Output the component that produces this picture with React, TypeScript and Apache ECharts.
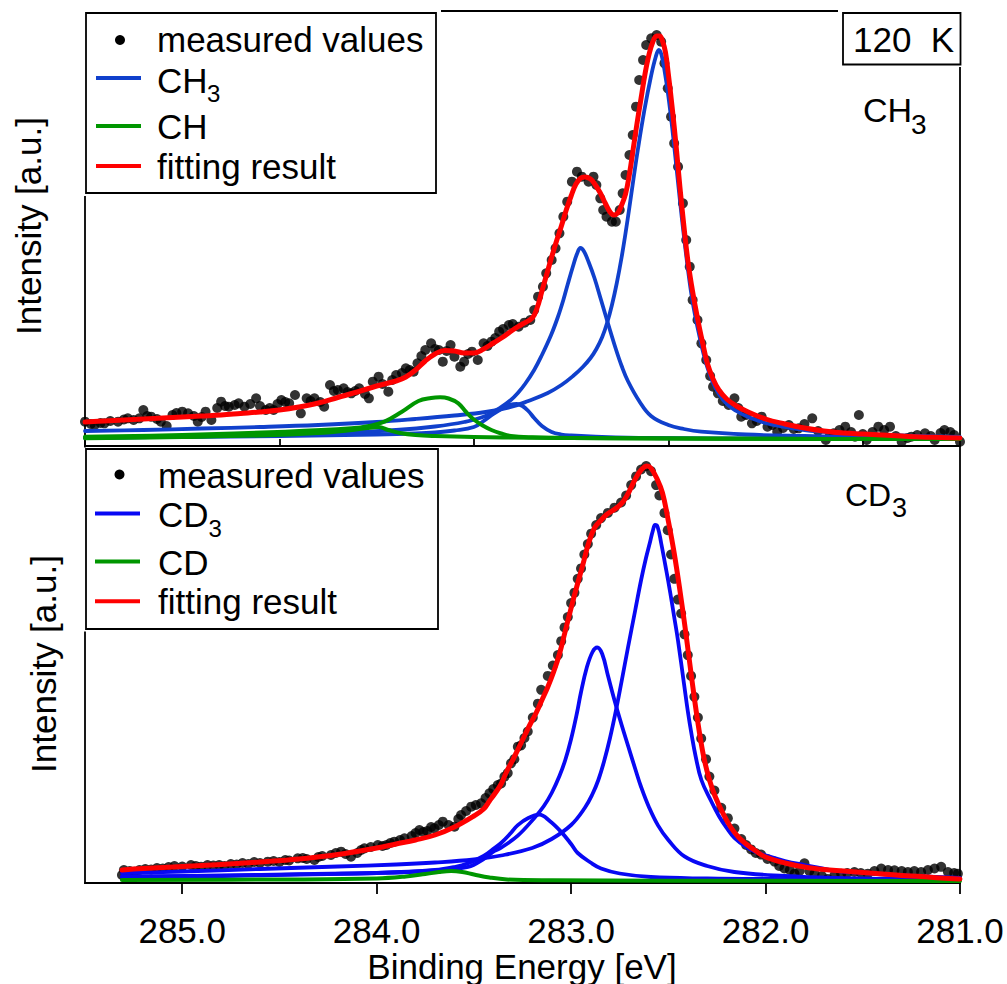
import React, { useEffect, useRef } from "react";
import * as echarts from "echarts";

const FONT = "'Liberation Sans', Arial, Helvetica, sans-serif";

const xMajorTicks = [285, 284, 283, 282, 281];
const xMinorTicks = [285.5, 284.5, 283.5, 282.5, 281.5];
const xMin = 281;
const xMax = 285.5;

const topMeasured: [number, number][] = [
  [285.5, 24.3], [285.47, 22], [285.45, 21], [285.42, 23], [285.4, 22.7], [285.37, 25], [285.33, 24.3], [285.3, 26.5],
  [285.28, 27.7], [285.25, 26], [285.22, 27.7], [285.2, 36], [285.18, 30], [285.16, 29.3], [285.13, 27], [285.11, 24.3],
  [285.08, 20], [285.05, 31], [285.03, 33], [285.0, 34.3], [284.97, 32.7], [284.94, 30], [284.92, 24.3], [284.9, 29],
  [284.88, 34.3], [284.85, 26], [284.82, 38], [284.8, 44.3], [284.78, 40], [284.76, 39.3], [284.73, 41], [284.71, 42.7],
  [284.68, 39.3], [284.65, 42], [284.62, 47.7], [284.6, 40], [284.57, 36], [284.55, 38], [284.53, 36], [284.51, 42],
  [284.49, 46], [284.47, 44], [284.45, 42.7], [284.42, 51], [284.39, 32.7], [284.36, 47.7], [284.34, 45], [284.32, 47.7],
  [284.29, 44], [284.27, 39.3], [284.24, 61], [284.22, 55], [284.2, 56], [284.17, 57.7], [284.15, 54], [284.13, 52.7],
  [284.11, 55], [284.09, 57.7], [284.06, 52], [284.04, 47.7], [284.02, 64.3], [283.99, 69.3], [283.97, 62], [283.94, 54.3],
  [283.92, 66], [283.9, 71], [283.87, 73], [283.85, 77.7], [283.83, 76], [283.81, 74.3], [283.79, 82.7], [283.77, 90],
  [283.75, 96], [283.72, 102.7], [283.7, 97], [283.68, 96], [283.66, 84.3], [283.64, 95], [283.62, 101], [283.6, 89.3],
  [283.57, 79.3], [283.55, 84.3], [283.53, 92], [283.51, 94.3], [283.48, 86], [283.45, 102.7], [283.43, 100], [283.41, 104.3],
  [283.39, 108], [283.37, 114.3], [283.35, 117], [283.32, 121], [283.3, 122], [283.27, 119.3], [283.24, 123.3], [283.21, 126],
  [283.19, 136], [283.17, 149.3], [283.145, 159.3], [283.128, 172.7], [283.1, 186], [283.08, 197.7], [283.06, 212.7], [283.04, 229.3],
  [283.02, 244.3], [282.996, 264.3], [282.97, 274.3], [282.945, 269.3], [282.91, 264.3], [282.885, 269.3], [282.87, 261], [282.85, 247.7],
  [282.835, 236], [282.818, 229.3], [282.79, 224.3], [282.77, 224.3], [282.75, 236], [282.735, 252.7], [282.72, 271], [282.7, 291],
  [282.683, 311], [282.666, 339.3], [282.65, 366], [282.63, 386], [282.614, 401], [282.588, 407.7], [282.56, 411], [282.537, 404.3],
  [282.52, 382.7], [282.503, 357.7], [282.486, 329.3], [282.47, 302.7], [282.45, 279.3], [282.425, 242.7], [282.408, 206], [282.39, 179.3],
  [282.375, 146], [282.35, 126], [282.33, 102.7], [282.305, 86], [282.285, 70], [282.27, 59.3], [282.245, 52.7], [282.22, 45],
  [282.19, 41], [282.16, 47.7], [282.14, 38], [282.125, 29.3], [282.1, 31], [282.07, 22.7], [282.045, 25], [282.02, 29.3],
  [281.99, 19.3], [281.965, 21], [281.94, 14.3], [281.91, 18], [281.88, 21], [281.855, 17], [281.83, 17.7], [281.8, 22],
  [281.76, 27.7], [281.73, 15], [281.69, 6], [281.67, 10], [281.65, 12.7], [281.62, 16], [281.59, 19.3], [281.56, 14],
  [281.54, 9.3], [281.52, 31], [281.5, 12], [281.48, 6], [281.45, 14], [281.42, 19.3], [281.39, 16], [281.36, 19.3],
  [281.33, 10], [281.3, 4.3], [281.27, 8], [281.25, 9.3], [281.22, 11], [281.18, 12.7], [281.15, 10], [281.13, 6],
  [281.1, 13], [281.08, 16], [281.05, 14], [281.03, 11], [281.0, 4.3],
];

const topFit: [number, number][] = [
  [285.5, 24], [285.4, 25], [285.3, 26], [285.2, 27], [285.1, 28], [285.0, 29], [284.9, 30], [284.8, 31], [284.7, 32.5],
  [284.6, 34], [284.5, 36], [284.4, 39], [284.3, 43], [284.2, 48.5], [284.1, 54], [284.0, 60], [283.9, 65], [283.85, 69],
  [283.8, 76], [283.75, 85], [283.7, 92], [283.65, 95.5], [283.6, 95], [283.55, 93], [283.5, 93], [283.45, 97], [283.4, 103],
  [283.35, 109], [283.3, 116], [283.25, 122], [283.2, 128], [283.175, 138], [283.15, 155], [283.125, 172], [283.1, 189],
  [283.075, 205], [283.05, 220], [283.025, 236], [283.0, 250], [282.975, 262], [282.95, 268], [282.93, 269], [282.9, 267],
  [282.875, 261], [282.85, 253], [282.825, 243], [282.8, 234], [282.78, 231], [282.76, 233], [282.74, 241], [282.72, 252],
  [282.7, 272], [282.68, 298], [282.66, 324], [282.64, 348], [282.62, 372], [282.6, 391], [282.58, 404], [282.56, 410],
  [282.545, 410], [282.53, 405], [282.515, 394], [282.5, 372], [282.48, 338], [282.46, 300], [282.44, 258], [282.42, 220],
  [282.4, 186], [282.38, 160], [282.36, 138], [282.34, 118], [282.32, 100], [282.3, 83], [282.27, 67], [282.24, 56],
  [282.2, 47], [282.15, 40], [282.1, 35], [282.0, 27], [281.9, 22], [281.8, 18], [281.7, 15], [281.6, 13], [281.5, 12],
  [281.4, 11], [281.3, 10], [281.2, 9], [281.1, 8.5], [281.0, 8],
];

const topCH3Main: [number, number][] = [
  [285.5, 15], [285.2, 16], [284.9, 17.5], [284.6, 19], [284.3, 21], [284.0, 24], [283.8, 27], [283.6, 30.5], [283.44, 34],
  [283.31, 39], [283.22, 45], [283.12, 53], [283.05, 61], [282.99, 70], [282.94, 79], [282.9, 88], [282.87, 97],
  [282.84, 109], [282.815, 123], [282.79, 141], [282.765, 163], [282.74, 189], [282.72, 213], [282.7, 239], [282.68, 266],
  [282.657, 296], [282.623, 336], [282.59, 369], [282.565, 389], [282.549, 396], [282.535, 391], [282.52, 376], [282.5, 350],
  [282.48, 318], [282.46, 282], [282.44, 245], [282.42, 210], [282.4, 178], [282.38, 150], [282.36, 128], [282.34, 110],
  [282.32, 93], [282.3, 79], [282.27, 63], [282.24, 52], [282.2, 42], [282.15, 35], [282.1, 30], [282.0, 23], [281.9, 19],
  [281.8, 16], [281.65, 13.5], [281.5, 12], [281.3, 10.5], [281.0, 9],
];

const topCH3Second: [number, number][] = [
  [285.5, 8], [285.0, 9.5], [284.6, 11], [284.2, 13], [283.9, 16], [283.7, 19.5], [283.55, 24], [283.44, 30], [283.36, 39],
  [283.31, 46], [283.274, 53], [283.237, 62], [283.19, 76], [283.15, 91], [283.103, 111], [283.068, 129], [283.04, 146],
  [283.017, 162], [282.99, 180], [282.97, 192], [282.952, 198], [282.935, 195], [282.91, 184], [282.88, 168], [282.846, 146],
  [282.811, 123], [282.77, 97], [282.74, 80], [282.708, 65], [282.65, 45], [282.589, 30], [282.5, 21], [282.42, 17],
  [282.331, 14.3], [282.1, 11.5], [281.8, 10], [281.5, 9], [281.0, 7.7],
];

const topCH3Third: [number, number][] = [
  [285.5, 8.5], [285.0, 9], [284.5, 10], [284.0, 11.5], [283.8, 12.5], [283.7, 13.5], [283.6, 15.5], [283.5, 19],
  [283.45, 25], [283.4, 32], [283.35, 38], [283.31, 41.5], [283.28, 42], [283.25, 40], [283.22, 35], [283.19, 28],
  [283.15, 20], [283.1, 14], [283.05, 11.5], [283.0, 10.5], [282.9, 9.5], [282.6, 8], [282.0, 7.5], [281.0, 7],
];

const topCHMain: [number, number][] = [
  [285.5, 9.3], [285.0, 11], [284.47, 14.3], [284.13, 17.7], [284.04, 20], [283.96, 24.3], [283.87, 34.3], [283.785, 45],
  [283.72, 48], [283.674, 48.7], [283.63, 47.5], [283.58, 42.7], [283.54, 34], [283.497, 26], [283.45, 20], [283.41, 16],
  [283.36, 12.5], [283.31, 10], [283.2, 8.7], [283.0, 8], [282.5, 7.5], [282.0, 7.2], [281.0, 7],
];

const topCHSecond: [number, number][] = [
  [285.5, 7.7], [285.0, 9], [284.6, 10.5], [284.3, 13], [284.15, 15.5], [284.05, 18], [283.99, 19], [283.94, 16],
  [283.88, 13], [283.8, 11], [283.7, 10], [283.5, 9], [283.2, 8.3], [282.8, 7.8], [282.0, 7.2], [281.0, 7],
];

const botMeasured: [number, number][] = [
  [285.31, 8], [285.3, 13], [285.27, 12], [285.246, 11.3], [285.22, 13], [285.19, 14], [285.16, 13.5], [285.13, 15],
  [285.1, 14.5], [285.07, 16], [285.04, 17], [285.0, 16.5], [284.955, 18], [284.93, 17], [284.903, 16.3], [284.87, 18],
  [284.84, 17.5], [284.81, 18], [284.783, 17], [284.75, 19], [284.72, 18.5], [284.69, 20], [284.66, 19], [284.63, 21],
  [284.6, 20], [284.56, 21.3], [284.53, 22], [284.5, 21], [284.47, 23], [284.45, 22.5], [284.406, 24.7], [284.38, 25],
  [284.36, 24], [284.32, 23], [284.3, 26], [284.28, 27], [284.235, 28], [284.21, 30], [284.183, 31.3], [284.16, 29],
  [284.132, 26.3], [284.1, 30], [284.08, 33], [284.063, 34.7], [284.03, 36], [283.994, 38], [283.97, 37], [283.95, 38],
  [283.93, 40], [283.909, 41.3], [283.88, 43], [283.857, 44.7], [283.82, 47], [283.8, 50], [283.78, 53], [283.76, 51],
  [283.74, 52], [283.72, 56], [283.703, 54.7], [283.68, 58], [283.66, 61.3], [283.63, 58], [283.6, 56.3], [283.58, 64],
  [283.566, 68], [283.54, 72], [283.514, 76.3], [283.49, 78], [283.463, 79.7], [283.44, 85], [283.42, 89.7], [283.4, 94],
  [283.377, 98], [283.36, 99.5], [283.343, 106.3], [283.326, 109.9], [283.309, 119.7], [283.292, 123.8], [283.274, 136.3],
  [283.257, 137.7], [283.24, 145], [283.223, 151.5], [283.197, 165.4], [283.171, 179.3], [283.154, 193.2], [283.12, 207.1],
  [283.094, 217.5], [283.068, 227.9], [283.051, 241.8], [283.034, 255.6], [283.017, 266], [283.0, 279.9], [282.983, 290.3],
  [282.966, 304.2], [282.949, 314.6], [282.932, 328.5], [282.914, 338.9], [282.897, 349.3], [282.871, 358], [282.846, 364.9],
  [282.811, 370.1], [282.777, 375.3], [282.743, 380.5], [282.717, 387.5], [282.691, 397.9], [282.666, 406.6], [282.64, 413.5],
  [282.614, 417], [282.589, 411.8], [282.563, 397.9], [282.546, 387.5], [282.52, 370.1], [282.503, 352.8], [282.486, 328.5],
  [282.469, 304.2], [282.451, 283.4], [282.434, 269.5], [282.417, 248.7], [282.4, 227.9], [282.383, 207.1], [282.366, 186.2],
  [282.348, 165.4], [282.331, 144.6], [282.306, 123.8], [282.289, 106.4], [282.263, 92.5], [282.228, 75.2], [282.194, 64.8],
  [282.16, 54.4], [282.125, 44], [282.1, 38], [282.074, 33.6], [282.05, 30], [282.023, 28.4], [281.99, 24], [281.954, 21.4],
  [281.93, 17], [281.903, 14.5], [281.875, 13], [281.851, 9.3], [281.825, 12], [281.8, 19.7], [281.775, 12], [281.748, 9.3],
  [281.71, 7], [281.68, 4.1], [281.645, 8], [281.611, 9.3], [281.58, 10], [281.543, 11], [281.51, 10], [281.474, 9.3],
  [281.44, 12], [281.405, 14.5], [281.37, 13], [281.337, 12.7], [281.3, 12], [281.268, 11], [281.235, 12], [281.2, 11],
  [281.165, 13], [281.131, 14.5], [281.097, 16.2], [281.062, 11], [281.03, 10], [281.011, 9.3],
];

const botFit: [number, number][] = [
  [285.31, 13], [285.2, 14.5], [285.0, 16.5], [284.8, 18.5], [284.6, 21], [284.4, 24], [284.2, 28.5], [284.0, 35],
  [283.9, 39], [283.8, 43], [283.7, 48], [283.6, 56], [283.5, 67], [283.45, 74], [283.42, 82], [283.39, 90], [283.36, 99],
  [283.33, 112], [283.3, 123], [283.27, 135], [283.24, 147], [283.21, 159], [283.18, 170], [283.15, 183], [283.12, 196],
  [283.09, 211], [283.06, 229], [283.03, 252], [283.0, 275], [282.97, 297], [282.94, 318], [282.91, 340], [282.88, 355],
  [282.85, 362], [282.82, 368], [282.79, 372], [282.76, 376], [282.73, 382], [282.7, 392], [282.67, 404], [282.64, 413],
  [282.61, 417], [282.59, 415], [282.56, 405], [282.53, 390], [282.5, 362], [282.47, 330], [282.44, 292], [282.41, 250],
  [282.38, 205], [282.35, 163], [282.32, 128], [282.29, 104], [282.26, 87], [282.22, 70], [282.18, 56], [282.14, 46],
  [282.1, 39], [282.05, 32], [282.0, 26], [281.9, 20], [281.8, 16], [281.7, 13.5], [281.6, 12], [281.5, 10.5], [281.4, 9],
  [281.3, 7.5], [281.2, 6.5], [281.1, 5], [281.0, 4],
];

const botCD3Main: [number, number][] = [
  [285.31, 10], [285.0, 11.5], [284.6, 14], [284.2, 16.5], [283.9, 18.5], [283.7, 20.5], [283.5, 23.5], [283.36, 27.5],
  [283.2, 35], [283.1, 44], [283.0, 58], [282.93, 75], [282.89, 89], [282.86, 103], [282.83, 122], [282.8, 145],
  [282.77, 172], [282.74, 202], [282.708, 235], [282.67, 273], [282.64, 303], [282.615, 325], [282.594, 341], [282.58, 352],
  [282.568, 358], [282.555, 356], [282.537, 340], [282.51, 312], [282.49, 290], [282.469, 265], [282.45, 242], [282.42, 200],
  [282.4, 172], [282.38, 148], [282.36, 127], [282.33, 103], [282.28, 82], [282.24, 67], [282.2, 55], [282.16, 45],
  [282.1, 36], [282.05, 31], [281.99, 27], [281.9, 22], [281.8, 18], [281.65, 12.5], [281.5, 10], [281.3, 7.5], [281.0, 5],
];

const botCD3Second: [number, number][] = [
  [285.31, 6.7], [284.8, 7.5], [284.39, 8.9], [284.0, 10], [283.7, 12.5], [283.53, 16.2], [283.45, 24], [283.394, 32],
  [283.36, 35.3], [283.274, 47.4], [283.19, 64.8], [283.14, 77], [283.1, 90], [283.06, 107], [283.03, 123], [283.0, 144],
  [282.97, 170], [282.95, 190], [282.92, 215], [282.89, 231], [282.866, 235.5], [282.84, 229], [282.81, 207],
  [282.777, 182.8], [282.74, 158], [282.708, 137.7], [282.67, 114], [282.64, 96], [282.6, 76], [282.554, 57.9], [282.5, 43],
  [282.417, 26.6], [282.3, 17], [282.16, 11], [281.9, 7], [281.65, 5], [281.3, 4], [281.0, 3.5],
];

const botCD3Third: [number, number][] = [
  [285.31, 6], [284.8, 7], [284.39, 8.5], [284.0, 10], [283.7, 13], [283.6, 16], [283.53, 19.7], [283.45, 27], [283.394, 35],
  [283.36, 40], [283.31, 50], [283.274, 57.9], [283.22, 65], [283.163, 68.3], [283.11, 62], [283.05, 50.9], [283.0, 39],
  [282.966, 30], [282.9, 20.5], [282.846, 14.5], [282.75, 9.5], [282.59, 6], [282.3, 4.5], [282.0, 4], [281.0, 3.5],
];

const botCD: [number, number][] = [
  [285.31, 3], [284.5, 3.5], [284.0, 4.5], [283.85, 6.5], [283.75, 9], [283.68, 11], [283.617, 12], [283.56, 11],
  [283.5, 8.5], [283.42, 5.5], [283.33, 3.5], [283.1, 2.7], [282.5, 2.3], [281.0, 2],
];

const TOP_BLUE = "#1040cc";
const BOT_BLUE = "#0808f4";
const GREEN = "#009600";
const RED = "#ff0000";

function lineSeries(name: string, data: [number, number][], color: string, width: number, axis: number, z: number) {
  return {
    type: "line",
    name,
    data,
    xAxisIndex: axis === 0 ? 0 : 1,
    yAxisIndex: axis,
    symbol: "none",
    showSymbol: false,
    smooth: 0.4,
    lineStyle: { color, width, cap: "round", join: "round" },
    itemStyle: { color },
    z,
    silent: true,
  };
}

function scatterSeries(data: [number, number][], axis: number) {
  return {
    type: "scatter",
    name: "measured values",
    data,
    xAxisIndex: axis === 0 ? 0 : 1,
    yAxisIndex: axis,
    symbol: "circle",
    symbolSize: 10,
    itemStyle: { color: "#000" },
    z: 2,
    silent: true,
  };
}

function txt(text: string, x: number, y: number, size: number, align = "left", rotation = 0) {
  return {
    type: "text",
    x,
    y,
    rotation,
    z: 102,
    silent: true,
    style: { text, font: `${size}px ${FONT}`, fill: "#000", align, verticalAlign: "middle" },
  };
}

function wrect(x: number, y: number, w: number, h: number) {
  return { type: "rect", z: 100, silent: true, shape: { x, y, width: w, height: h }, style: { fill: "#fff", stroke: null } };
}

function brect(x: number, y: number, w: number, h: number) {
  return { type: "rect", z: 101, silent: true, shape: { x, y, width: w, height: h }, style: { fill: "#fff", stroke: "#000", lineWidth: 1.8 } };
}

function lseg(x1: number, x2: number, y: number, color: string) {
  return { type: "line", z: 102, silent: true, shape: { x1, y1: y, x2, y2: y }, style: { stroke: color, lineWidth: 4 } };
}

function dot(x: number, y: number) {
  return { type: "circle", z: 102, silent: true, shape: { cx: x, cy: y, r: 5 }, style: { fill: "#000" } };
}

export default function App() {
  const ref = useRef<HTMLDivElement>(null);
  useEffect(() => {
    if (!ref.current) return;
    const chart = echarts.init(ref.current, null, { renderer: "svg" });
    const hiddenX = (grid: number) => ({
      type: "value",
      gridIndex: grid,
      min: xMin,
      max: xMax,
      inverse: true,
      axisLine: { show: false },
      axisTick: { show: false },
      axisLabel: { show: false },
      splitLine: { show: false },
    });
    const option: any = {
      animation: false,
      backgroundColor: "#fff",
      grid: [
        { left: 85, top: 11, width: 875, height: 435, show: true, borderColor: "#000", borderWidth: 1.8, backgroundColor: "transparent" },
        { left: 85, top: 446, width: 875, height: 437, show: true, borderColor: "#000", borderWidth: 1.8, backgroundColor: "transparent" },
      ],
      xAxis: [
        hiddenX(0),
        {
          type: "value",
          gridIndex: 1,
          min: xMin,
          max: xMax,
          inverse: true,
          axisLine: { show: true, onZero: false, lineStyle: { color: "#000", width: 1.8 } },
          axisTick: { show: true, customValues: xMajorTicks, length: 11, lineStyle: { color: "#000", width: 1.8 } },
          axisLabel: {
            show: true,
            customValues: xMajorTicks,
            formatter: (v: number) => v.toFixed(1),
            fontSize: 35,
            fontFamily: FONT,
            color: "#000",
            margin: 30,
          },
          splitLine: { show: false },
        },
        {
          type: "value",
          gridIndex: 1,
          min: xMin,
          max: xMax,
          inverse: true,
          axisLine: { show: false, onZero: false },
          axisTick: { show: true, customValues: xMinorTicks, length: 7, lineStyle: { color: "#000", width: 1.8 } },
          axisLabel: { show: false },
          splitLine: { show: false },
        },
      ],
      yAxis: [
        { type: "value", gridIndex: 0, min: 0, max: 435, show: false },
        { type: "value", gridIndex: 1, min: 0, max: 437, show: false },
      ],
      series: [
        scatterSeries(topMeasured, 0),
        lineSeries("CH3", topCH3Main, TOP_BLUE, 3.8, 0, 3),
        lineSeries("CH3", topCH3Second, TOP_BLUE, 3.8, 0, 3),
        lineSeries("CH3", topCH3Third, TOP_BLUE, 3.8, 0, 3),
        lineSeries("CH", topCHMain, GREEN, 4, 0, 4),
        lineSeries("CH", topCHSecond, GREEN, 4, 0, 4),
        lineSeries("fitting result", topFit, RED, 5, 0, 5),
        scatterSeries(botMeasured, 1),
        lineSeries("CD3", botCD3Main, BOT_BLUE, 3.8, 1, 3),
        lineSeries("CD3", botCD3Second, BOT_BLUE, 3.8, 1, 3),
        lineSeries("CD3", botCD3Third, BOT_BLUE, 3.8, 1, 3),
        lineSeries("CD", botCD, GREEN, 4, 1, 4),
        lineSeries("fitting result", botFit, RED, 5, 1, 5),
      ],
      graphic: [
        // top legend
        wrect(79, 4, 362, 192),
        brect(86, 13, 350, 180),
        dot(120, 40),
        txt("measured values", 157, 39, 35),
        lseg(96, 141, 78, TOP_BLUE),
        txt("CH", 157, 80, 35),
        txt("3", 207, 93.5, 24),
        lseg(96, 141, 126, GREEN),
        txt("CH", 157, 126, 35),
        lseg(96, 141, 166, RED),
        txt("fitting result", 157, 166, 35),
        // temperature box
        wrect(838, 4, 128, 63),
        brect(843, 13, 117.5, 51.5),
        txt("120  K", 853, 39.5, 35),
        // top panel label
        txt("CH", 863, 110, 34),
        txt("3", 911, 124, 28),
        // bottom legend
        wrect(79, 447.5, 364, 184),
        brect(86, 449, 352, 180),
        dot(119.5, 474.5),
        txt("measured values", 158, 475, 35),
        lseg(95, 140, 513.6, BOT_BLUE),
        txt("CD", 158, 514.6, 35),
        txt("3", 208.5, 528, 24),
        lseg(95, 140, 561.4, GREEN),
        txt("CD", 158, 562.5, 35),
        lseg(95, 140, 601.3, RED),
        txt("fitting result", 158, 601.4, 35),
        // bottom panel label
        txt("CD", 845, 495, 32),
        txt("3", 892, 507.5, 27),
        // axis titles
        txt("Intensity [a.u.]", 28, 226, 35, "center", Math.PI / 2),
        txt("Intensity [a.u.]", 43, 664, 35, "center", Math.PI / 2),
        txt("Binding Energy [eV]", 522, 966, 35, "center"),
      ],
    };
    chart.setOption(option);
    return () => chart.dispose();
  }, []);
  return (
    <div
      ref={ref}
      style={{ position: "fixed", left: 0, top: 0, width: 1007, height: 984, background: "#fff" }}
    />
  );
}
